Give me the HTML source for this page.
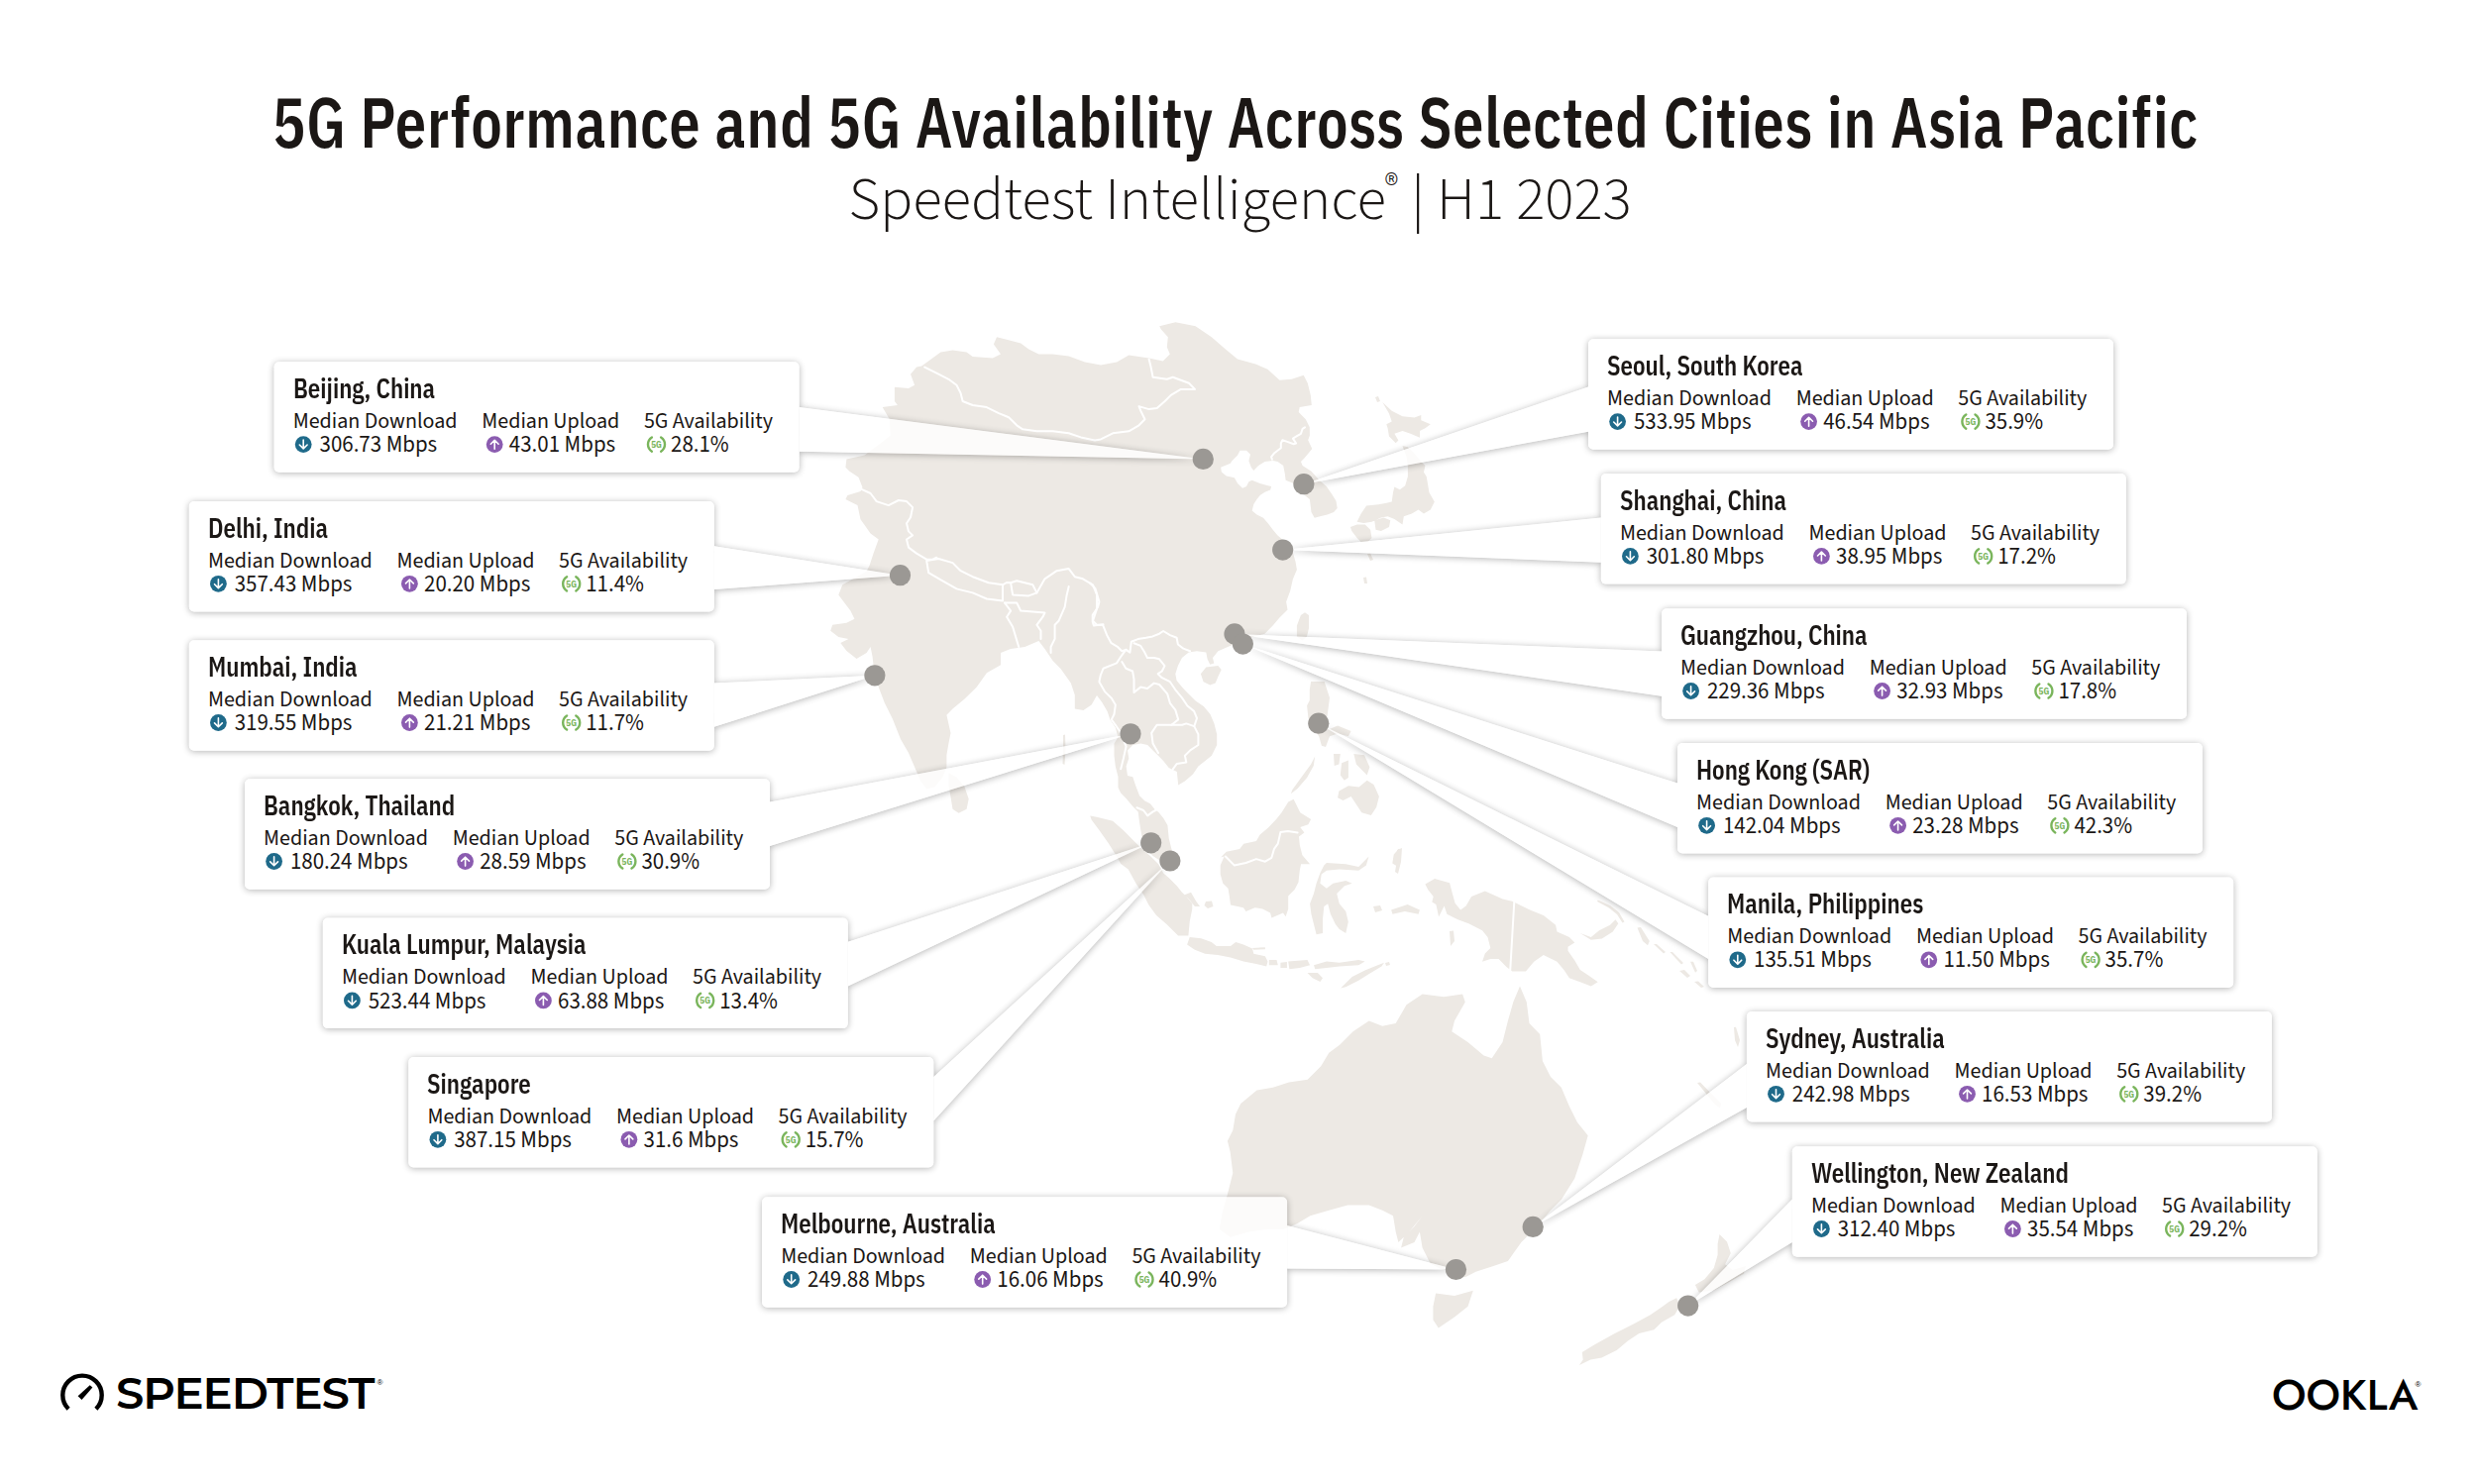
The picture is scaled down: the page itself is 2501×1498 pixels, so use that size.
<!DOCTYPE html>
<html><head><meta charset="utf-8"><title>5G Performance and 5G Availability Across Selected Cities in Asia Pacific</title>
<style>
html,body{margin:0;padding:0;background:#fff;}
body{width:2501px;height:1498px;position:relative;overflow:hidden;font-family:'IBM Plex Sans Condensed','Liberation Sans Narrow','Liberation Sans',sans-serif;color:#1b1715;}
.abs{position:absolute;}
#title{position:absolute;left:277px;top:0;font-size:70px;font-weight:600;white-space:nowrap;line-height:0;transform-origin:0 0;}
#sub{position:absolute;left:856.5px;top:0;font-size:60.8px;font-weight:300;font-family:'Source Sans 3','Liberation Sans',sans-serif;white-space:nowrap;line-height:0;}
.nm,.lb{position:absolute;white-space:nowrap;line-height:0;height:0;}
.nm{font-size:27.5px;font-weight:600;transform:scaleX(0.9);transform-origin:0 0;}
.lb{font-size:22px;font-weight:400;font-family:'Source Sans 3','Liberation Sans',sans-serif;}
.vl{font-size:22.9px;}
.reg{position:absolute;line-height:0;font-family:'Liberation Sans',sans-serif;font-size:8px;color:#000;}
.g5{font-family:'IBM Plex Sans Condensed','Liberation Sans Narrow','Liberation Sans',sans-serif;font-size:9px;font-weight:700;fill:#7ab55c;text-anchor:middle;}
svg{position:absolute;left:0;top:0;}
#st{position:absolute;left:117px;top:1406px;line-height:0;font-family:'Montserrat','Liberation Sans',sans-serif;font-weight:600;font-size:45.1px;letter-spacing:-1.1px;white-space:nowrap;color:#000;}
#ok{position:absolute;left:2293px;top:1408px;line-height:0;font-family:'Jost','Liberation Sans',sans-serif;font-weight:500;font-size:43px;white-space:nowrap;color:#000;}
</style></head><body>
<svg width="2501" height="1498" viewBox="0 0 2501 1498">
<defs>
<filter id="sh" x="0" y="0" width="2501" height="1498" filterUnits="userSpaceOnUse"><feGaussianBlur in="SourceAlpha" stdDeviation="3.6"/><feOffset dy="0.5"/><feComponentTransfer><feFuncA type="linear" slope="0.3"/></feComponentTransfer><feComposite in2="SourceAlpha" operator="out"/></filter>
<g id="idl"><circle r="8.4" fill="#1f6a8a"/><path d="M0,-4.6V4.2M-3.9,0.4L0,4.3L3.9,0.4" stroke="#fff" stroke-width="1.6" fill="none" stroke-linecap="round" stroke-linejoin="round"/></g>
<g id="iul"><circle r="8.4" fill="#8b5cb0"/><path d="M0,4.6V-4.2M-3.9,-0.4L0,-4.3L3.9,-0.4" stroke="#fff" stroke-width="1.6" fill="none" stroke-linecap="round" stroke-linejoin="round"/></g>
<g id="i5g"><path d="M-4.6,-7.1A8.4,8.4 0 0 0 -4.6,7.1M4.6,-7.1A8.4,8.4 0 0 1 4.6,7.1" stroke="#7ab55c" stroke-width="2.4" fill="none" stroke-linecap="round"/></g>
</defs>
<g id="map"><path fill="#ede9e4" d="M930.2,369.6L949.4,355.5L961.5,353.5L975.6,355.5L981.7,360.1L1001.9,361.5L1010.0,357.5L1002.9,347.4L1006.0,340.3L1030.2,346.4L1038.3,352.4L1048.4,357.5L1062.5,357.5L1078.7,359.5L1094.9,365.6L1111.0,368.6L1127.2,365.6L1139.3,358.5L1159.6,361.5L1173.7,364.6L1180.8,357.5L1177.8,350.4L1178.8,340.3L1171.7,332.2L1170.2,329.2L1186.4,325.2L1206.6,329.2L1222.8,340.3L1236.9,352.4L1249.0,362.6L1267.2,367.6L1279.4,372.7L1291.5,383.8L1303.6,382.8L1315.7,378.7L1319.8,386.8L1322.8,398.9L1323.8,409.0L1311.7,411.1L1310.7,416.1L1317.8,423.2L1321.8,431.3L1321.9,439.4L1320.2,444.3L1324.3,453.1L1320.2,458.0L1316.2,462.8L1313.0,466.1L1314.6,470.1L1323.5,475.8L1331.6,484.7L1338.8,491.1L1344.5,499.2L1348.5,505.7L1349.7,513.0L1346.1,517.0L1339.6,519.4L1333.2,521.0L1326.7,522.7L1323.5,517.0L1322.7,510.5L1321.9,504.1L1317.8,500.8L1313.8,497.6L1305.7,487.9L1297.6,484.7L1296.8,478.2L1295.2,470.1L1289.5,466.1L1284.7,464.9L1276.6,466.1L1270.1,470.1L1265.3,475.0L1262.8,471.7L1260.4,465.3L1262.0,458.8L1258.0,454.8L1251.5,454.8L1249.1,459.6L1243.4,465.3L1241.8,467.7L1232.1,471.7L1232.9,476.6L1237.8,480.6L1245.9,482.2L1249.1,487.9L1254.0,492.8L1258.0,491.1L1260.4,486.3L1263.7,484.7L1271.7,487.9L1279.8,490.3L1283.1,491.1L1282.2,494.4L1276.6,496.8L1271.7,500.0L1268.5,504.1L1265.3,508.9L1263.7,515.4L1268.5,519.4L1275.0,522.7L1279.8,528.3L1284.7,534.8L1289.5,540.4L1296.0,546.0L1303.0,552.0L1305.0,558.0L1307.5,567.0L1308.9,575.0L1304.9,584.5L1302.2,596.6L1298.1,607.4L1299.5,615.5L1291.4,623.6L1284.6,631.6L1276.5,639.7L1261.7,643.8L1241.5,651.9L1229.4,657.3L1224.0,664.0L1225.3,669.4L1221.3,670.7L1218.6,665.3L1217.3,658.6L1207.8,657.3L1199.7,658.6L1193.0,664.0L1188.9,672.1L1186.3,680.2L1187.6,686.9L1194.3,695.0L1198.6,699.4L1206.7,707.5L1214.8,712.9L1221.5,721.0L1225.5,730.4L1228.2,741.2L1228.2,752.0L1222.9,762.8L1216.1,768.2L1209.4,773.6L1204.0,781.6L1195.9,788.4L1189.2,792.4L1187.8,778.9L1179.7,774.9L1174.3,768.2L1169.0,762.8L1163.6,757.4L1158.2,752.0L1151.4,750.6L1143.3,752.0L1138.0,757.4L1139.3,765.5L1136.6,773.6L1138.0,783.0L1143.3,784.3L1146.0,792.4L1150.1,803.2L1155.5,808.6L1160.9,811.3L1166.3,818.0L1169.0,819.4L1174.3,826.1L1178.4,832.9L1179.7,846.3L1182.4,857.1L1186.5,869.2L1178.4,871.9L1171.6,869.2L1163.6,863.9L1155.5,855.8L1152.8,846.3L1151.4,838.2L1150.1,830.2L1148.7,819.4L1143.3,814.0L1136.6,805.9L1131.2,800.5L1128.5,795.1L1128.5,784.3L1125.8,773.6L1124.5,762.8L1124.5,750.6L1128.5,743.9L1125.8,734.5L1120.4,726.4L1117.7,718.3L1112.3,708.9L1107.0,702.1L1101.6,711.6L1093.5,717.0L1084.8,715.6L1084.8,701.5L1080.8,689.4L1070.7,675.2L1062.6,667.1L1054.5,655.0L1048.4,646.9L1034.3,653.0L1020.1,655.0L1010.0,659.0L1010.0,671.2L995.9,679.3L985.8,693.4L973.6,705.5L961.5,715.6L955.4,721.7L959.5,739.9L957.5,750.0L955.4,762.1L955.4,774.3L951.4,784.4L943.3,794.5L935.2,796.5L929.2,788.4L923.1,774.3L917.0,760.1L908.9,746.0L900.9,725.8L892.8,709.6L886.7,693.4L881.7,673.2L880.6,663.1L878.6,653.0L874.6,659.0L864.5,665.1L854.4,657.0L848.3,648.9L856.4,644.9L846.3,642.9L838.2,636.8L840.2,630.8L854.4,628.7L862.4,624.7L858.4,616.6L852.3,608.5L846.3,600.4L850.3,590.3L874.6,576.8L877.6,570.7L881.6,558.6L886.7,544.5L878.6,538.4L868.5,524.2L865.5,510.1L853.4,504.0L855.4,500.0L868.5,496.0L870.5,491.9L866.5,481.8L857.4,475.7L853.4,471.7L854.4,463.6L872.6,459.6L888.7,447.4L898.8,439.4L897.8,423.2L890.7,411.1L905.9,409.0L902.9,405.0L902.9,390.8L917.0,391.9L923.1,388.8L919.0,377.7L925.1,370.6ZM1211.9,680.2L1217.3,673.4L1229.4,672.1L1232.7,676.1L1229.4,682.9L1226.7,689.6L1221.3,691.6L1214.6,688.2ZM1317.0,618.2L1321.0,620.9L1321.0,634.3L1319.0,642.4L1314.3,646.5L1308.9,642.4L1308.9,631.6L1312.9,620.9ZM957.5,780.3L965.5,784.4L973.6,794.5L977.7,806.6L975.6,816.7L967.6,820.8L961.5,816.7L959.5,804.6L957.5,792.5ZM1395.3,406.1L1404.7,414.8L1415.5,420.2L1427.6,421.6L1434.3,418.9L1434.3,424.3L1443.8,428.3L1438.4,432.3L1433.0,435.0L1433.0,441.8L1423.6,437.7L1415.5,435.0L1407.4,437.7L1411.4,444.5L1408.7,447.2L1402.0,440.4L1400.6,432.3L1399.3,428.3L1404.7,425.6L1402.0,417.5ZM1415.5,449.9L1420.9,451.2L1426.3,456.6L1434.3,466.0L1438.4,470.1L1437.0,476.8L1439.7,480.9L1441.1,488.9L1442.4,497.0L1447.8,506.5L1443.8,514.6L1437.0,518.6L1431.6,514.6L1424.9,518.6L1416.8,521.3L1415.5,529.4L1407.4,524.0L1400.6,521.3L1393.9,522.6L1384.5,526.7L1376.4,528.0L1369.6,526.7L1373.7,518.6L1379.1,510.5L1391.2,509.2L1399.3,507.8L1404.7,506.5L1406.0,497.0L1407.4,491.6L1412.8,494.3L1418.2,490.3L1420.9,480.9L1420.9,470.1L1419.5,460.6L1416.8,453.9ZM1387.2,525.3L1396.6,522.6L1403.3,525.3L1402.0,532.1L1393.9,536.1L1388.5,534.8ZM1369.6,529.4L1377.7,529.4L1383.1,534.8L1384.5,542.9L1380.4,546.9L1373.7,546.9L1369.6,542.9L1364.3,536.1L1362.9,532.1ZM1323.1,688.1L1336.6,688.1L1342.0,704.3L1340.6,715.0L1339.3,724.5L1340.6,736.6L1350.1,732.6L1363.6,738.0L1360.9,743.3L1350.1,740.6L1342.0,743.3L1338.0,754.1L1333.9,752.8L1331.2,743.3L1324.5,733.9L1320.4,724.5L1319.1,712.3L1321.8,707.0L1321.8,696.2ZM1346.0,760.9L1352.8,760.9L1351.4,771.6L1346.7,773.0ZM1354.1,770.3L1360.9,767.6L1360.9,785.1L1356.8,787.8L1352.8,782.4ZM1366.3,760.9L1377.0,762.2L1382.4,774.3L1379.7,782.4L1374.3,777.0L1368.9,771.6ZM1351.4,798.6L1360.9,793.2L1371.6,794.6L1379.7,787.8L1386.5,791.9L1391.9,804.0L1389.2,814.8L1383.8,822.9L1374.3,820.2L1368.9,812.1L1363.6,804.0L1355.5,808.0L1350.1,805.3ZM1304.3,797.3L1315.0,782.4L1323.1,771.6L1327.2,763.6L1325.8,773.0L1319.1,785.1L1309.6,795.9L1302.9,801.3ZM1235.6,864.5L1231.7,873.6L1231.7,882.6L1234.3,891.7L1239.5,896.8L1240.8,904.6L1242.0,913.6L1255.0,916.2L1257.5,920.1L1266.6,916.2L1274.3,917.5L1282.1,921.4L1283.4,926.5L1295.0,921.4L1297.6,925.2L1300.2,917.5L1300.2,904.6L1306.6,898.1L1310.5,890.4L1311.8,878.7L1313.1,872.3L1322.1,872.3L1314.4,863.2L1311.8,852.9L1311.0,844.4L1316.4,840.4L1312.3,835.0L1320.4,832.3L1323.1,826.9L1312.3,820.2L1305.6,806.7L1300.2,809.4L1293.5,820.2L1288.1,826.9L1280.0,835.5L1271.7,842.6L1267.9,849.0L1255.2,851.7L1251.2,857.1L1237.7,859.8L1232.3,865.2ZM1100.2,823.4L1107.0,824.8L1123.1,828.8L1133.9,838.2L1143.3,847.7L1151.4,855.8L1160.9,863.9L1169.0,871.9L1174.3,881.4L1180.1,886.5L1187.8,894.2L1193.0,900.7L1196.9,904.6L1203.3,912.3L1203.3,917.5L1200.7,930.4L1199.4,944.6L1189.1,944.6L1177.5,933.0L1167.1,923.9L1159.4,913.6L1154.2,903.3L1146.5,891.7L1138.7,877.4L1131.2,871.9L1125.8,862.5L1119.1,851.7L1109.6,838.2L1101.6,827.5ZM1195.6,903.3L1202.0,900.7L1207.2,909.7L1211.1,914.9L1205.9,914.9L1199.4,907.1ZM1217.0,910.0L1223.0,909.5L1224.5,915.0L1219.0,917.0L1215.5,914.0ZM1200.7,945.9L1212.3,947.2L1222.7,951.1L1227.8,954.9L1242.0,954.9L1247.2,951.1L1255.0,953.6L1264.0,957.5L1265.3,962.7L1276.9,965.3L1279.5,970.4L1278.2,975.6L1267.9,973.0L1255.0,970.4L1242.0,966.5L1229.1,964.0L1216.2,962.7L1205.9,958.8L1198.1,953.6ZM1264.0,956.9L1276.9,956.2L1276.9,958.2L1265.3,958.8ZM1280.8,969.1L1288.5,969.1L1289.8,974.3L1280.8,974.3ZM1292.4,971.7L1298.9,971.1L1298.9,976.9L1292.4,976.9ZM1300.2,970.4L1319.5,969.1L1322.1,974.3L1311.8,976.9L1301.4,978.2ZM1326.0,974.3L1338.9,970.4L1351.8,971.7L1371.2,969.1L1377.6,970.4L1371.2,974.3L1351.8,975.6L1338.9,976.9L1327.3,978.2ZM1319.5,982.0L1329.9,982.0L1335.0,987.2L1332.4,991.1L1324.7,987.2ZM1353.1,997.5L1364.7,985.9L1377.6,979.5L1390.5,974.3L1397.0,971.7L1394.4,975.6L1381.5,983.3L1371.2,989.8L1358.3,996.2ZM1338.9,871.0L1358.3,872.3L1371.2,874.9L1377.6,868.4L1381.5,864.5L1378.9,873.6L1371.2,878.7L1351.8,877.4L1338.9,878.7L1333.7,882.6L1332.4,891.7L1338.9,896.8L1345.4,891.7L1358.3,889.1L1364.7,891.7L1357.0,894.2L1349.2,902.0L1351.8,912.3L1358.3,920.1L1360.8,930.4L1358.3,942.0L1351.8,938.1L1347.9,933.0L1342.8,922.6L1340.2,912.3L1336.3,914.9L1335.0,927.8L1335.0,942.0L1328.6,943.3L1326.0,933.0L1323.4,922.6L1322.1,912.3L1326.0,902.0L1328.6,891.7L1332.4,881.3L1336.3,873.6ZM1404.1,918.6L1420.6,913.1L1432.9,918.6L1431.6,922.7L1417.8,920.0L1405.5,922.7ZM1386.0,915.0L1393.0,914.0L1395.0,919.0L1388.0,921.0ZM1412.1,856.5L1413.4,867.3L1409.4,874.1L1405.3,871.4L1406.7,862.5ZM1410.0,858.0L1415.0,856.0L1414.0,870.0L1411.0,882.0L1408.0,880.0L1410.0,868.0ZM1438.4,892.5L1448.0,887.0L1463.1,891.2L1465.9,902.1L1468.6,911.7L1474.1,918.6L1479.6,914.5L1485.1,904.9L1498.8,899.4L1516.6,907.6L1526.2,909.7L1530.4,911.7L1544.1,918.6L1557.8,924.1L1570.1,933.7L1571.5,940.6L1583.9,946.0L1589.3,951.5L1582.5,955.7L1582.5,959.8L1589.3,969.4L1594.8,979.0L1603.1,984.5L1612.7,991.3L1605.8,995.4L1594.8,991.3L1583.9,987.2L1578.4,979.0L1571.5,970.7L1557.8,963.9L1548.2,970.7L1540.0,980.4L1526.2,980.4L1520.7,976.2L1512.5,968.0L1504.3,968.0L1496.0,970.7L1498.8,962.5L1504.3,957.0L1501.5,946.0L1496.0,939.2L1482.3,932.3L1471.4,928.2L1460.4,922.7L1457.6,914.5L1452.1,925.5L1449.4,913.1L1445.3,910.4L1446.7,904.9L1441.2,898.0ZM1594.8,941.9L1605.8,946.0L1614.0,939.2L1625.0,933.7L1630.5,928.2L1633.3,932.3L1627.8,940.6L1616.8,947.4L1605.8,948.8ZM1612.7,908.5L1625.0,914.0L1634.0,921.0L1639.5,930.5L1637.5,931.5L1632.0,923.0L1624.0,916.5L1612.0,910.0ZM1463.0,940.0L1467.0,939.5L1468.0,950.0L1464.0,955.0ZM1252.3,1114.0L1268.5,1100.5L1284.7,1097.8L1300.9,1092.4L1319.7,1089.7L1333.2,1076.3L1341.3,1062.8L1352.1,1054.7L1365.6,1041.2L1381.7,1030.4L1395.2,1035.8L1408.7,1033.1L1419.5,1014.3L1435.6,1003.5L1457.2,1006.2L1476.1,1003.5L1478.8,1011.6L1468.0,1030.4L1465.3,1041.2L1481.5,1052.0L1497.6,1065.5L1505.7,1068.2L1516.5,1052.0L1521.9,1030.4L1527.3,1011.6L1534.0,995.4L1540.8,1011.6L1543.5,1033.1L1554.2,1043.9L1556.9,1070.9L1565.0,1087.0L1575.8,1097.8L1583.9,1116.7L1592.0,1132.9L1602.7,1146.3L1597.4,1165.2L1589.3,1189.5L1575.8,1211.0L1565.0,1221.8L1551.5,1238.0L1535.4,1254.1L1521.9,1273.0L1505.7,1278.4L1489.5,1283.8L1478.8,1289.2L1468.0,1283.8L1454.5,1281.1L1443.7,1275.7L1435.6,1259.5L1432.9,1243.4L1427.5,1254.1L1414.1,1259.5L1416.8,1248.8L1427.5,1238.0L1435.6,1227.2L1422.2,1243.4L1411.4,1254.1L1408.7,1243.4L1406.0,1227.2L1395.2,1221.8L1381.7,1216.4L1360.2,1216.4L1341.3,1221.8L1322.4,1227.2L1309.0,1235.3L1295.5,1240.7L1279.3,1240.7L1260.4,1243.4L1241.6,1248.8L1230.8,1240.7L1233.5,1224.5L1238.9,1205.6L1244.3,1184.1L1241.6,1162.5L1238.9,1151.7L1244.3,1140.9L1247.0,1124.8ZM1449.1,1305.4L1468.0,1308.1L1486.8,1302.7L1481.5,1318.8L1468.0,1329.6L1451.8,1340.4L1446.4,1332.3L1446.4,1318.8ZM1735.5,1246.0L1743.0,1253.6L1746.8,1264.9L1741.1,1276.2L1748.7,1281.9L1761.9,1278.1L1760.0,1285.7L1746.8,1293.2L1729.8,1302.6L1714.7,1304.5L1710.9,1297.0L1720.4,1291.3L1729.8,1280.0L1733.6,1266.8L1733.6,1255.5ZM1692.1,1310.2L1695.8,1317.7L1690.2,1327.2L1677.0,1334.7L1669.4,1342.3L1654.3,1346.0L1643.0,1353.6L1631.7,1363.0L1616.6,1370.6L1605.3,1372.5L1594.0,1378.1L1597.7,1372.5L1596.8,1364.9L1609.1,1357.4L1629.8,1346.0L1648.7,1336.6L1665.7,1327.2L1677.0,1319.6L1684.5,1314.0ZM1652.5,936.4L1656.0,936.0L1664.8,950.0L1663.0,954.3L1658.0,950.0ZM1669.0,953.0L1672.0,953.0L1681.0,961.0L1679.0,962.5ZM1685.4,961.0L1688.0,961.0L1699.0,972.0L1697.0,973.5ZM1695.0,980.0L1700.0,979.0L1706.0,985.0L1703.0,987.0ZM1706.0,970.7L1709.0,970.7L1713.0,980.0L1711.0,981.7ZM1710.0,991.0L1714.0,990.5L1720.0,996.0L1717.0,997.0ZM1713.0,1093.0L1716.0,1092.5L1737.0,1114.0L1736.0,1118.6L1731.0,1115.0ZM1750.0,1037.0L1752.0,1036.7L1756.0,1050.0L1754.0,1057.0L1751.0,1050.0ZM1380.0,559.0L1383.0,558.5L1386.0,565.0L1383.0,566.0ZM1376.0,583.0L1379.0,582.5L1380.0,589.0L1377.0,589.0ZM1388.0,401.0L1391.0,400.0L1393.0,405.0L1390.0,406.0ZM1398.0,972.0L1402.0,971.0L1403.0,974.0L1399.0,975.0ZM1073.0,742.0L1075.0,741.5L1075.5,756.0L1074.5,772.0L1072.5,771.0L1073.0,756.0Z"/><g fill="none" stroke="#fff" stroke-width="2" stroke-linejoin="round" stroke-linecap="round"><polyline points="933.2,370.6 945.3,376.7 957.4,382.8 965.5,388.8 969.6,396.9 971.6,405.0 981.7,409.0 995.8,411.1 1008.0,417.1 1018.1,421.2 1026.2,429.3 1032.2,433.3 1046.4,435.3 1062.5,435.3 1078.7,437.3 1090.8,441.4 1105.0,444.4 1111.0,443.4 1123.2,437.3 1139.3,435.3 1149.5,429.3 1155.5,423.2 1151.5,415.1 1149.5,410.1 1159.6,413.1 1167.7,412.1 1175.7,405.0 1181.8,398.9 1191.9,392.9 1206.0,392.9 1200.0,386.8 1183.8,380.7 1177.8,382.8 1163.6,380.7 1161.6,370.6 1159.6,362.6"/><polyline points="869.5,493.9 878.6,498.0 884.7,506.1 896.8,510.1 906.9,505.0 915.0,506.1 921.1,512.1 919.0,522.2 915.0,528.3 917.0,536.4 921.1,540.4 915.0,544.5 917.0,552.6 925.1,558.6 935.2,564.7 941.3,564.7 945.3,562.7"/><polyline points="935.2,566.1 937.2,578.2 951.4,586.3 965.5,594.4 981.7,598.4 995.9,604.5 1012.0,606.5 1012.0,590.3 997.9,588.3 981.7,582.2 969.6,576.2 961.5,568.1 947.3,564.0 935.2,566.1"/><polyline points="1020.1,588.3 1026.2,586.3 1042.3,590.3 1046.4,598.4 1038.3,601.4 1022.1,600.4 1020.1,588.3"/><polyline points="1012.0,590.3 1016.0,588.0 1020.1,588.3"/><polyline points="1046.4,598.4 1054.5,584.3 1066.6,576.2 1078.7,574.1 1084.8,582.2 1092.9,584.3 1103.0,590.3 1107.0,600.4 1107.0,614.6 1103.0,626.7 1107.0,630.8 1113.1,630.8 1117.1,640.9 1121.6,649.2 1128.3,653.2 1132.3,657.3 1136.4,655.9"/><polyline points="1014.0,608.5 1020.1,616.6 1016.1,622.7 1022.1,632.8 1028.2,653.0"/><polyline points="1050.5,644.9 1050.5,636.8 1046.4,630.8 1052.5,622.7 1054.5,618.6 1030.2,616.6 1026.2,608.5 1014.0,608.5"/><polyline points="1078.7,592.0 1076.7,600.4 1074.7,612.6 1068.6,626.7 1064.6,630.8 1064.6,644.9 1060.6,653.0 1060.6,659.0"/><polyline points="1100.0,588.5 1105.4,593.9 1109.4,607.4 1108.1,612.8 1102.7,620.9 1102.7,627.6 1104.0,631.6 1113.5,630.3"/><polyline points="1136.4,655.9 1140.4,658.6 1141.8,647.8 1148.5,645.1 1156.6,643.8 1163.3,642.4 1170.1,639.7 1174.1,637.0 1180.9,641.1 1187.6,643.8 1188.9,650.5 1194.3,654.6 1201.1,657.3"/><polyline points="1144.5,649.2 1151.2,651.9 1155.3,658.6 1158.0,664.0 1164.7,664.0 1170.1,665.3 1175.5,672.1 1172.8,677.5 1168.7,680.2 1172.8,684.2 1180.9,688.2 1186.3,696.3 1193.0,704.4 1198.4,712.5 1205.1,717.9 1208.0,725.0 1205.3,733.1"/><polyline points="1136.4,655.9 1132.3,661.3 1127.0,669.4 1113.5,674.8 1110.8,681.5 1109.4,688.2 1115.0,698.1 1121.8,704.8 1125.8,711.6 1124.5,721.0 1121.8,726.4 1125.8,731.8 1130.0,738.0 1136.6,753.3 1133.9,765.5 1131.2,776.3"/><polyline points="1132.3,668.0 1136.4,674.8 1143.1,677.5 1144.5,685.6 1144.5,699.0 1151.2,693.6 1158.0,695.0 1164.7,689.6 1170.1,691.0 1178.2,700.4 1180.9,709.8 1186.3,716.6 1189.2,726.4 1182.4,731.8"/><polyline points="1182.4,731.8 1167.6,731.8 1162.2,739.9 1163.6,750.6 1169.0,760.1"/><polyline points="1182.4,731.8 1193.2,731.8 1197.3,730.4 1205.3,733.1 1209.4,741.2 1209.4,752.0 1201.3,757.4 1195.9,762.8 1197.3,769.5 1187.8,770.9 1183.8,776.3"/><polyline points="1147.4,815.3 1154.1,818.0 1158.2,823.4 1163.6,819.4 1166.3,818.0"/><polyline points="1317.0,431.3 1314.6,432.9 1313.0,437.8 1308.9,440.2 1304.9,442.6 1308.1,447.5 1305.7,448.3 1299.2,445.9 1294.4,444.3 1292.8,447.5 1292.8,452.3 1286.3,457.2 1283.1,461.2 1283.9,463.7"/><polyline points="1236.9,864.5 1245.9,873.6 1257.5,871.0 1267.9,867.1 1276.9,869.7 1283.4,865.8 1286.0,856.8 1289.8,851.6 1292.4,840.0 1300.0,839.0 1309.6,840.4"/><polyline points="1528.3,910.4 1524.2,979.7"/></g></g>
<g filter="url(#sh)" fill="#000"><g><path d="M806.6,411.1L1214.3,463.4L806.6,455.7Z"/><path d="M281.6,365.3H801.6A5,5 0 0 1 806.6,370.3V471.8A5,5 0 0 1 801.6,476.8H281.6A5,5 0 0 1 276.6,471.8V370.3A5,5 0 0 1 281.6,365.3Z"/><path d="M720.8,551.3L908.5,580.7L720.8,595.1Z"/><path d="M195.8,506H715.8A5,5 0 0 1 720.8,511V612.5A5,5 0 0 1 715.8,617.5H195.8A5,5 0 0 1 190.8,612.5V511A5,5 0 0 1 195.8,506Z"/><path d="M720.8,689.6L882.9,681.8L720.8,733.8Z"/><path d="M195.8,646.2H715.8A5,5 0 0 1 720.8,651.2V752.7A5,5 0 0 1 715.8,757.7H195.8A5,5 0 0 1 190.8,752.7V651.2A5,5 0 0 1 195.8,646.2Z"/><path d="M777,809.6L1141,740.8L777,854Z"/><path d="M252,786.2H772A5,5 0 0 1 777,791.2V892.7A5,5 0 0 1 772,897.7H252A5,5 0 0 1 247,892.7V791.2A5,5 0 0 1 252,786.2Z"/><path d="M855.8,950.8L1161.7,850.8L855.8,995.5Z"/><path d="M330.8,926.6H850.8A5,5 0 0 1 855.8,931.6V1033.1A5,5 0 0 1 850.8,1038.1H330.8A5,5 0 0 1 325.8,1033.1V931.6A5,5 0 0 1 330.8,926.6Z"/><path d="M942.3,1086.9L1180.9,869L942.3,1131.6Z"/><path d="M417.3,1067H937.3A5,5 0 0 1 942.3,1072V1173.5A5,5 0 0 1 937.3,1178.5H417.3A5,5 0 0 1 412.3,1173.5V1072A5,5 0 0 1 417.3,1067Z"/><path d="M1299.1,1237L1469.5,1281.5L1299.1,1280.5Z"/><path d="M774.1,1208.2H1294.1A5,5 0 0 1 1299.1,1213.2V1314.7A5,5 0 0 1 1294.1,1319.7H774.1A5,5 0 0 1 769.1,1314.7V1213.2A5,5 0 0 1 774.1,1208.2Z"/><path d="M1603,390.4L1315.9,488.7L1603,435.7Z"/><path d="M1608,342.3H2128A5,5 0 0 1 2133,347.3V448.8A5,5 0 0 1 2128,453.8H1608A5,5 0 0 1 1603,448.8V347.3A5,5 0 0 1 1608,342.3Z"/><path d="M1615.8,522.5L1294.7,555.1L1615.8,567.7Z"/><path d="M1620.8,478.1H2140.8A5,5 0 0 1 2145.8,483.1V584.6A5,5 0 0 1 2140.8,589.6H1620.8A5,5 0 0 1 1615.8,584.6V483.1A5,5 0 0 1 1620.8,478.1Z"/><path d="M1677,657.5L1246,639.9L1677,702.8Z"/><path d="M1682,614.2H2202A5,5 0 0 1 2207,619.2V720.7A5,5 0 0 1 2202,725.7H1682A5,5 0 0 1 1677,720.7V619.2A5,5 0 0 1 1682,614.2Z"/><path d="M1693,790.6L1254.4,650.1L1693,834.9Z"/><path d="M1698,750H2218A5,5 0 0 1 2223,755V856.5A5,5 0 0 1 2218,861.5H1698A5,5 0 0 1 1693,856.5V755A5,5 0 0 1 1698,750Z"/><path d="M1724.2,924.7L1330.8,730.2L1724.2,968.1Z"/><path d="M1729.2,885.5H2249.2A5,5 0 0 1 2254.2,890.5V992A5,5 0 0 1 2249.2,997H1729.2A5,5 0 0 1 1724.2,992V890.5A5,5 0 0 1 1729.2,885.5Z"/><path d="M1762.9,1073.9L1547.2,1238.4L1762.9,1118Z"/><path d="M1767.9,1021H2287.9A5,5 0 0 1 2292.9,1026V1127.5A5,5 0 0 1 2287.9,1132.5H1767.9A5,5 0 0 1 1762.9,1127.5V1026A5,5 0 0 1 1767.9,1021Z"/><path d="M1808.8,1210.6L1703.7,1318.1L1808.8,1254Z"/><path d="M1813.8,1157.2H2333.8A5,5 0 0 1 2338.8,1162.2V1263.7A5,5 0 0 1 2333.8,1268.7H1813.8A5,5 0 0 1 1808.8,1263.7V1162.2A5,5 0 0 1 1813.8,1157.2Z"/></g></g>
<path d="M806.6,411.1L1214.3,463.4L806.6,455.7Z" fill="#fff" fill-opacity="0.8"/><path d="M281.6,365.3H801.6A5,5 0 0 1 806.6,370.3V471.8A5,5 0 0 1 801.6,476.8H281.6A5,5 0 0 1 276.6,471.8V370.3A5,5 0 0 1 281.6,365.3Z" fill="#fff" fill-opacity="0.8"/><path d="M720.8,551.3L908.5,580.7L720.8,595.1Z" fill="#fff" fill-opacity="0.8"/><path d="M195.8,506H715.8A5,5 0 0 1 720.8,511V612.5A5,5 0 0 1 715.8,617.5H195.8A5,5 0 0 1 190.8,612.5V511A5,5 0 0 1 195.8,506Z" fill="#fff" fill-opacity="0.8"/><path d="M720.8,689.6L882.9,681.8L720.8,733.8Z" fill="#fff" fill-opacity="0.8"/><path d="M195.8,646.2H715.8A5,5 0 0 1 720.8,651.2V752.7A5,5 0 0 1 715.8,757.7H195.8A5,5 0 0 1 190.8,752.7V651.2A5,5 0 0 1 195.8,646.2Z" fill="#fff" fill-opacity="0.8"/><path d="M777,809.6L1141,740.8L777,854Z" fill="#fff" fill-opacity="0.8"/><path d="M252,786.2H772A5,5 0 0 1 777,791.2V892.7A5,5 0 0 1 772,897.7H252A5,5 0 0 1 247,892.7V791.2A5,5 0 0 1 252,786.2Z" fill="#fff" fill-opacity="0.8"/><path d="M855.8,950.8L1161.7,850.8L855.8,995.5Z" fill="#fff" fill-opacity="0.8"/><path d="M330.8,926.6H850.8A5,5 0 0 1 855.8,931.6V1033.1A5,5 0 0 1 850.8,1038.1H330.8A5,5 0 0 1 325.8,1033.1V931.6A5,5 0 0 1 330.8,926.6Z" fill="#fff" fill-opacity="0.8"/><path d="M942.3,1086.9L1180.9,869L942.3,1131.6Z" fill="#fff" fill-opacity="0.8"/><path d="M417.3,1067H937.3A5,5 0 0 1 942.3,1072V1173.5A5,5 0 0 1 937.3,1178.5H417.3A5,5 0 0 1 412.3,1173.5V1072A5,5 0 0 1 417.3,1067Z" fill="#fff" fill-opacity="0.8"/><path d="M1299.1,1237L1469.5,1281.5L1299.1,1280.5Z" fill="#fff" fill-opacity="0.8"/><path d="M774.1,1208.2H1294.1A5,5 0 0 1 1299.1,1213.2V1314.7A5,5 0 0 1 1294.1,1319.7H774.1A5,5 0 0 1 769.1,1314.7V1213.2A5,5 0 0 1 774.1,1208.2Z" fill="#fff" fill-opacity="0.8"/><path d="M1603,390.4L1315.9,488.7L1603,435.7Z" fill="#fff" fill-opacity="0.8"/><path d="M1608,342.3H2128A5,5 0 0 1 2133,347.3V448.8A5,5 0 0 1 2128,453.8H1608A5,5 0 0 1 1603,448.8V347.3A5,5 0 0 1 1608,342.3Z" fill="#fff" fill-opacity="0.8"/><path d="M1615.8,522.5L1294.7,555.1L1615.8,567.7Z" fill="#fff" fill-opacity="0.8"/><path d="M1620.8,478.1H2140.8A5,5 0 0 1 2145.8,483.1V584.6A5,5 0 0 1 2140.8,589.6H1620.8A5,5 0 0 1 1615.8,584.6V483.1A5,5 0 0 1 1620.8,478.1Z" fill="#fff" fill-opacity="0.8"/><path d="M1677,657.5L1246,639.9L1677,702.8Z" fill="#fff" fill-opacity="0.8"/><path d="M1682,614.2H2202A5,5 0 0 1 2207,619.2V720.7A5,5 0 0 1 2202,725.7H1682A5,5 0 0 1 1677,720.7V619.2A5,5 0 0 1 1682,614.2Z" fill="#fff" fill-opacity="0.8"/><path d="M1693,790.6L1254.4,650.1L1693,834.9Z" fill="#fff" fill-opacity="0.8"/><path d="M1698,750H2218A5,5 0 0 1 2223,755V856.5A5,5 0 0 1 2218,861.5H1698A5,5 0 0 1 1693,856.5V755A5,5 0 0 1 1698,750Z" fill="#fff" fill-opacity="0.8"/><path d="M1724.2,924.7L1330.8,730.2L1724.2,968.1Z" fill="#fff" fill-opacity="0.8"/><path d="M1729.2,885.5H2249.2A5,5 0 0 1 2254.2,890.5V992A5,5 0 0 1 2249.2,997H1729.2A5,5 0 0 1 1724.2,992V890.5A5,5 0 0 1 1729.2,885.5Z" fill="#fff" fill-opacity="0.8"/><path d="M1762.9,1073.9L1547.2,1238.4L1762.9,1118Z" fill="#fff" fill-opacity="0.8"/><path d="M1767.9,1021H2287.9A5,5 0 0 1 2292.9,1026V1127.5A5,5 0 0 1 2287.9,1132.5H1767.9A5,5 0 0 1 1762.9,1127.5V1026A5,5 0 0 1 1767.9,1021Z" fill="#fff" fill-opacity="0.8"/><path d="M1808.8,1210.6L1703.7,1318.1L1808.8,1254Z" fill="#fff" fill-opacity="0.8"/><path d="M1813.8,1157.2H2333.8A5,5 0 0 1 2338.8,1162.2V1263.7A5,5 0 0 1 2333.8,1268.7H1813.8A5,5 0 0 1 1808.8,1263.7V1162.2A5,5 0 0 1 1813.8,1157.2Z" fill="#fff" fill-opacity="0.8"/>
<g fill="#9b9894"><circle cx="1214.3" cy="463.4" r="10.6"/><circle cx="908.5" cy="580.7" r="10.6"/><circle cx="882.9" cy="681.8" r="10.6"/><circle cx="1141" cy="740.8" r="10.6"/><circle cx="1161.7" cy="850.8" r="10.6"/><circle cx="1180.9" cy="869" r="10.6"/><circle cx="1469.5" cy="1281.5" r="10.6"/><circle cx="1315.9" cy="488.7" r="10.6"/><circle cx="1294.7" cy="555.1" r="10.6"/><circle cx="1246" cy="639.9" r="10.6"/><circle cx="1254.4" cy="650.1" r="10.6"/><circle cx="1330.8" cy="730.2" r="10.6"/><circle cx="1547.2" cy="1238.4" r="10.6"/><circle cx="1703.7" cy="1318.1" r="10.6"/></g>
<use href="#idl" x="306.2" y="448.6"/><use href="#iul" x="499.2" y="448.6"/><use href="#i5g" x="662.5" y="448.6"/><text x="662.5" y="451.9" class="g5">5G</text><use href="#idl" x="220.4" y="589.3"/><use href="#iul" x="413.4" y="589.3"/><use href="#i5g" x="576.7" y="589.3"/><text x="576.7" y="592.6" class="g5">5G</text><use href="#idl" x="220.4" y="729.5"/><use href="#iul" x="413.4" y="729.5"/><use href="#i5g" x="576.7" y="729.5"/><text x="576.7" y="732.8" class="g5">5G</text><use href="#idl" x="276.6" y="869.5"/><use href="#iul" x="469.6" y="869.5"/><use href="#i5g" x="632.9" y="869.5"/><text x="632.9" y="872.8" class="g5">5G</text><use href="#idl" x="355.4" y="1009.9"/><use href="#iul" x="548.4" y="1009.9"/><use href="#i5g" x="711.7" y="1009.9"/><text x="711.7" y="1013.2" class="g5">5G</text><use href="#idl" x="441.9" y="1150.3"/><use href="#iul" x="634.9" y="1150.3"/><use href="#i5g" x="798.2" y="1150.3"/><text x="798.2" y="1153.6" class="g5">5G</text><use href="#idl" x="798.7" y="1291.5"/><use href="#iul" x="991.7" y="1291.5"/><use href="#i5g" x="1155" y="1291.5"/><text x="1155" y="1294.8" class="g5">5G</text><use href="#idl" x="1632.6" y="425.6"/><use href="#iul" x="1825.6" y="425.6"/><use href="#i5g" x="1988.9" y="425.6"/><text x="1988.9" y="428.9" class="g5">5G</text><use href="#idl" x="1645.4" y="561.4"/><use href="#iul" x="1838.4" y="561.4"/><use href="#i5g" x="2001.7" y="561.4"/><text x="2001.7" y="564.7" class="g5">5G</text><use href="#idl" x="1706.6" y="697.5"/><use href="#iul" x="1899.6" y="697.5"/><use href="#i5g" x="2062.9" y="697.5"/><text x="2062.9" y="700.8" class="g5">5G</text><use href="#idl" x="1722.6" y="833.3"/><use href="#iul" x="1915.6" y="833.3"/><use href="#i5g" x="2078.9" y="833.3"/><text x="2078.9" y="836.6" class="g5">5G</text><use href="#idl" x="1753.8" y="968.8"/><use href="#iul" x="1946.8" y="968.8"/><use href="#i5g" x="2110.1" y="968.8"/><text x="2110.1" y="972.1" class="g5">5G</text><use href="#idl" x="1792.5" y="1104.3"/><use href="#iul" x="1985.5" y="1104.3"/><use href="#i5g" x="2148.8" y="1104.3"/><text x="2148.8" y="1107.6" class="g5">5G</text><use href="#idl" x="1838.4" y="1240.5"/><use href="#iul" x="2031.4" y="1240.5"/><use href="#i5g" x="2194.7" y="1240.5"/><text x="2194.7" y="1243.8" class="g5">5G</text>
<g id="gauge"><path d="M69.07,1422.23A19.7,19.7 0 1 1 96.93,1422.23" fill="none" stroke="#000" stroke-width="4.4"/><path d="M78.6,1409.3L90.7,1398.2L93.4,1400.4L82.5,1412.9Z" fill="#000"/></g>
</svg>
<div id="title" class="fit" style="top:122.9px;left:274.5px;letter-spacing:1px;transform:scaleX(0.88)">5G Performance and 5G Availability Across Selected Cities in Asia Pacific</div>
<div id="sub" class="fit" style="top:202.1px">Speedtest Intelligence<span style="font-size:33px;position:relative;top:-23px;margin-left:-1px;margin-right:1px">®</span> | H1 2023</div>
<div class="nm fit" style="left:295.6px;top:392.1px">Beijing, China</div><div class="lb fit" style="left:295.7px;top:425px">Median Download</div><div class="lb fit" style="left:486.3px;top:425px">Median Upload</div><div class="lb fit" style="left:649.9px;top:425px">5G Availability</div><div class="lb vl fit" style="left:322.5px;top:449.2px">306.73 Mbps</div><div class="lb vl fit" style="left:513.8px;top:449.2px">43.01 Mbps</div><div class="lb vl fit" style="left:677px;top:449.2px">28.1%</div><div class="nm fit" style="left:209.8px;top:532.8px">Delhi, India</div><div class="lb fit" style="left:209.9px;top:565.7px">Median Download</div><div class="lb fit" style="left:400.5px;top:565.7px">Median Upload</div><div class="lb fit" style="left:564.1px;top:565.7px">5G Availability</div><div class="lb vl fit" style="left:236.7px;top:589.9px">357.43 Mbps</div><div class="lb vl fit" style="left:428px;top:589.9px">20.20 Mbps</div><div class="lb vl fit" style="left:591.2px;top:589.9px">11.4%</div><div class="nm fit" style="left:209.8px;top:673px">Mumbai, India</div><div class="lb fit" style="left:209.9px;top:705.9px">Median Download</div><div class="lb fit" style="left:400.5px;top:705.9px">Median Upload</div><div class="lb fit" style="left:564.1px;top:705.9px">5G Availability</div><div class="lb vl fit" style="left:236.7px;top:730.1px">319.55 Mbps</div><div class="lb vl fit" style="left:428px;top:730.1px">21.21 Mbps</div><div class="lb vl fit" style="left:591.2px;top:730.1px">11.7%</div><div class="nm fit" style="left:266px;top:813px">Bangkok, Thailand</div><div class="lb fit" style="left:266.1px;top:845.9px">Median Download</div><div class="lb fit" style="left:456.7px;top:845.9px">Median Upload</div><div class="lb fit" style="left:620.3px;top:845.9px">5G Availability</div><div class="lb vl fit" style="left:292.9px;top:870.1px">180.24 Mbps</div><div class="lb vl fit" style="left:484.2px;top:870.1px">28.59 Mbps</div><div class="lb vl fit" style="left:647.4px;top:870.1px">30.9%</div><div class="nm fit" style="left:344.8px;top:953.4px">Kuala Lumpur, Malaysia</div><div class="lb fit" style="left:344.9px;top:986.3px">Median Download</div><div class="lb fit" style="left:535.5px;top:986.3px">Median Upload</div><div class="lb fit" style="left:699.1px;top:986.3px">5G Availability</div><div class="lb vl fit" style="left:371.7px;top:1010.5px">523.44 Mbps</div><div class="lb vl fit" style="left:563px;top:1010.5px">63.88 Mbps</div><div class="lb vl fit" style="left:726.2px;top:1010.5px">13.4%</div><div class="nm fit" style="left:431.3px;top:1093.8px">Singapore</div><div class="lb fit" style="left:431.4px;top:1126.7px">Median Download</div><div class="lb fit" style="left:622px;top:1126.7px">Median Upload</div><div class="lb fit" style="left:785.6px;top:1126.7px">5G Availability</div><div class="lb vl fit" style="left:458.2px;top:1150.9px">387.15 Mbps</div><div class="lb vl fit" style="left:649.5px;top:1150.9px">31.6 Mbps</div><div class="lb vl fit" style="left:812.7px;top:1150.9px">15.7%</div><div class="nm fit" style="left:788.1px;top:1235px">Melbourne, Australia</div><div class="lb fit" style="left:788.2px;top:1267.9px">Median Download</div><div class="lb fit" style="left:978.8px;top:1267.9px">Median Upload</div><div class="lb fit" style="left:1142.4px;top:1267.9px">5G Availability</div><div class="lb vl fit" style="left:815px;top:1292.1px">249.88 Mbps</div><div class="lb vl fit" style="left:1006.3px;top:1292.1px">16.06 Mbps</div><div class="lb vl fit" style="left:1169.5px;top:1292.1px">40.9%</div><div class="nm fit" style="left:1622px;top:369.1px">Seoul, South Korea</div><div class="lb fit" style="left:1622.1px;top:402px">Median Download</div><div class="lb fit" style="left:1812.7px;top:402px">Median Upload</div><div class="lb fit" style="left:1976.3px;top:402px">5G Availability</div><div class="lb vl fit" style="left:1648.9px;top:426.2px">533.95 Mbps</div><div class="lb vl fit" style="left:1840.2px;top:426.2px">46.54 Mbps</div><div class="lb vl fit" style="left:2003.4px;top:426.2px">35.9%</div><div class="nm fit" style="left:1634.8px;top:504.9px">Shanghai, China</div><div class="lb fit" style="left:1634.9px;top:537.8px">Median Download</div><div class="lb fit" style="left:1825.5px;top:537.8px">Median Upload</div><div class="lb fit" style="left:1989.1px;top:537.8px">5G Availability</div><div class="lb vl fit" style="left:1661.7px;top:562px">301.80 Mbps</div><div class="lb vl fit" style="left:1853px;top:562px">38.95 Mbps</div><div class="lb vl fit" style="left:2016.2px;top:562px">17.2%</div><div class="nm fit" style="left:1696px;top:641px">Guangzhou, China</div><div class="lb fit" style="left:1696.1px;top:673.9px">Median Download</div><div class="lb fit" style="left:1886.7px;top:673.9px">Median Upload</div><div class="lb fit" style="left:2050.3px;top:673.9px">5G Availability</div><div class="lb vl fit" style="left:1722.9px;top:698.1px">229.36 Mbps</div><div class="lb vl fit" style="left:1914.2px;top:698.1px">32.93 Mbps</div><div class="lb vl fit" style="left:2077.4px;top:698.1px">17.8%</div><div class="nm fit" style="left:1712px;top:776.8px">Hong Kong (SAR)</div><div class="lb fit" style="left:1712.1px;top:809.7px">Median Download</div><div class="lb fit" style="left:1902.7px;top:809.7px">Median Upload</div><div class="lb fit" style="left:2066.3px;top:809.7px">5G Availability</div><div class="lb vl fit" style="left:1738.9px;top:833.9px">142.04 Mbps</div><div class="lb vl fit" style="left:1930.2px;top:833.9px">23.28 Mbps</div><div class="lb vl fit" style="left:2093.4px;top:833.9px">42.3%</div><div class="nm fit" style="left:1743.2px;top:912.3px">Manila, Philippines</div><div class="lb fit" style="left:1743.3px;top:945.2px">Median Download</div><div class="lb fit" style="left:1933.9px;top:945.2px">Median Upload</div><div class="lb fit" style="left:2097.5px;top:945.2px">5G Availability</div><div class="lb vl fit" style="left:1770.1px;top:969.4px">135.51 Mbps</div><div class="lb vl fit" style="left:1961.4px;top:969.4px">11.50 Mbps</div><div class="lb vl fit" style="left:2124.6px;top:969.4px">35.7%</div><div class="nm fit" style="left:1781.9px;top:1047.8px">Sydney, Australia</div><div class="lb fit" style="left:1782px;top:1080.7px">Median Download</div><div class="lb fit" style="left:1972.6px;top:1080.7px">Median Upload</div><div class="lb fit" style="left:2136.2px;top:1080.7px">5G Availability</div><div class="lb vl fit" style="left:1808.8px;top:1104.9px">242.98 Mbps</div><div class="lb vl fit" style="left:2000.1px;top:1104.9px">16.53 Mbps</div><div class="lb vl fit" style="left:2163.3px;top:1104.9px">39.2%</div><div class="nm fit" style="left:1827.8px;top:1184px">Wellington, New Zealand</div><div class="lb fit" style="left:1827.9px;top:1216.9px">Median Download</div><div class="lb fit" style="left:2018.5px;top:1216.9px">Median Upload</div><div class="lb fit" style="left:2182.1px;top:1216.9px">5G Availability</div><div class="lb vl fit" style="left:1854.7px;top:1241.1px">312.40 Mbps</div><div class="lb vl fit" style="left:2046px;top:1241.1px">35.54 Mbps</div><div class="lb vl fit" style="left:2209.2px;top:1241.1px">29.2%</div>
<div id="st" class="fit">SPEEDTEST</div><div class="reg" style="left:380.5px;top:1396px">®</div>
<div id="ok" class="fit">OOKLA</div><div class="reg" style="left:2437.5px;top:1397.5px">®</div>
<script>(function(){var T=[1943.9,790,143.1,166,139,130,119,107,59,120.6,166,139,130,119,107,59,150.3,166,139,130,119,107,59,193.5,166,139,130,119,107,59,246.6,166,139,130,119,107,59,105.3,166,139,130,119,96,59,216.9,166,139,130,119,107,59,197.1,166,139,130,119,107,59,168.3,166,139,130,119,107,59,189,166,139,130,119,107,59,175.5,166,139,130,119,107,59,198,166,139,130,119,107,59,180.9,166,139,130,119,107,59,260.1,166,139,130,119,107,59,260,147];var E=document.querySelectorAll(".fit");for(var i=0;i<E.length&&i<T.length;i++){var w=E[i].offsetWidth;if(w>0){E[i].style.transformOrigin="0 0";E[i].style.transform="scaleX("+(T[i]/w).toFixed(4)+")";}}})();</script></body></html>
